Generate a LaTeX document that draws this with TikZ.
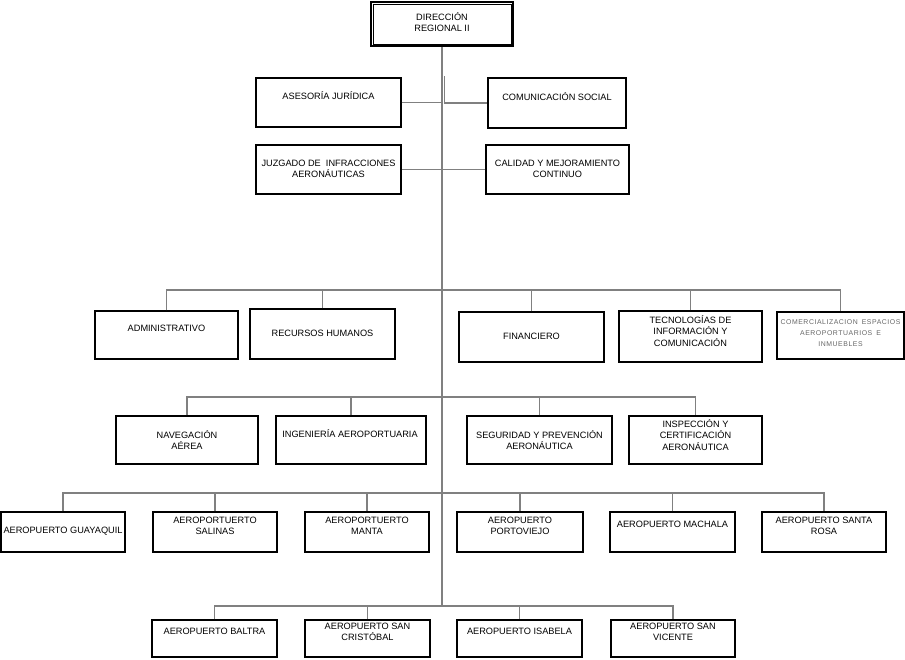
\documentclass[tikz,border=0pt]{standalone}
\usepackage{fontspec}
\setmainfont{Liberation Sans}
\newfontfamily\spacedfont[LetterSpace=8,WordSpace=1.6]{Liberation Sans}
\usetikzlibrary{fit}
\begin{document}
\begin{tikzpicture}[x=1pt,y=-1pt,
  box/.style={draw=black,line width=1.4pt,inner sep=0pt},
  txt/.style={align=center,inner sep=0pt,font=\fontsize{9.2}{11.5}\selectfont},
  smalltxt/.style={align=center,inner sep=0pt,text=black!60,font=\spacedfont\fontsize{6.9}{11}\selectfont},
  conn/.style={draw=black!50,line width=1.2pt},
  trunk/.style={draw=black!50,line width=1.7pt},
  thickbus/.style={draw=black!50,line width=2.4pt}]
\useasboundingbox (0,0) rectangle (905,659);
% ---- boxes
\node[box,line width=2.6pt,fit={(371,2) (513,46)}] (dir) {};
\node[draw=black,line width=0.8pt,fit=(dir),inner sep=-3.2pt] (dirin) {};
\node[box,fit={(256,78) (401,127)}] (ase) {};
\node[box,fit={(488,78) (626,128)}] (com) {};
\node[box,fit={(256,145) (401,194)}] (juz) {};
\node[box,fit={(486,145) (629,194)}] (cal) {};
\node[box,fit={(95,311) (238,359)}] (adm) {};
\node[box,fit={(250,309) (395,359)}] (rrhh) {};
\node[box,fit={(459,312) (604,362)}] (fin) {};
\node[box,fit={(619,311) (762,362)}] (tic) {};
\node[box,fit={(777,312) (904,359)}] (comer) {};
\node[box,fit={(116,416) (258,464)}] (nav) {};
\node[box,fit={(276,416) (426,464)}] (ing) {};
\node[box,fit={(467,416) (612,464)}] (seg) {};
\node[box,fit={(629,416) (762,464)}] (insp) {};
\node[box,fit={(1,512) (125,552)}] (gye) {};
\node[box,fit={(153,512) (277,552)}] (sal) {};
\node[box,fit={(305,512) (429,552)}] (manta) {};
\node[box,fit={(457,512) (583,552)}] (port) {};
\node[box,fit={(610,512) (735,552)}] (mach) {};
\node[box,fit={(762,512) (886,552)}] (sros) {};
\node[box,fit={(152,620) (277,657)}] (bal) {};
\node[box,fit={(305,620) (430,657)}] (sc) {};
\node[box,fit={(457,620) (582,657)}] (isa) {};
\node[box,fit={(611,620) (735,657)}] (sv) {};
% ---- texts
\node[txt] (dir-t) at (442,22) {DIRECCIÓN\\REGIONAL II};
\node[txt] (ase-t) at (328.5,96) {ASESORÍA JURÍDICA};
\node[txt] (com-t) at (557,97) {COMUNICACIÓN SOCIAL};
\node[txt] (juz-t) at (328.5,169) {JUZGADO DE\ \ INFRACCIONES\\AERONÁUTICAS};
\node[txt] (cal-t) at (557.5,169) {CALIDAD Y MEJORAMIENTO\\CONTINUO};
\node[txt] (adm-t) at (166.5,328) {ADMINISTRATIVO};
\node[txt] (rrhh-t) at (322.5,333) {RECURSOS HUMANOS};
\node[txt] (fin-t) at (531.5,336) {FINANCIERO};
\node[txt] (tic-t) at (690.5,331) {TECNOLOGÍAS DE\\INFORMACIÓN Y\\COMUNICACIÓN};
\node[smalltxt] (comer-t) at (840.5,333) {COMERCIALIZACION ESPACIOS\\AEROPORTUARIOS E\\INMUEBLES};
\node[txt] (nav-t) at (187,440) {NAVEGACIÓN\\AÉREA};
\node[txt] (ing-t) at (350,434) {INGENIERÍA AEROPORTUARIA};
\node[txt] (seg-t) at (539.5,440) {SEGURIDAD Y PREVENCIÓN\\AERONÁUTICA};
\node[txt] (insp-t) at (695.5,435) {INSPECCIÓN Y\\CERTIFICACIÓN\\AERONÁUTICA};
\node[txt] (gye-t) at (63,531) {AEROPUERTO GUAYAQUIL};
\node[txt] (sal-t) at (215,526) {AEROPORTUERTO\\SALINAS};
\node[txt] (manta-t) at (367,526) {AEROPORTUERTO\\MANTA};
\node[txt] (port-t) at (520,526) {AEROPUERTO\\PORTOVIEJO};
\node[txt] (mach-t) at (672.5,524) {AEROPUERTO MACHALA};
\node[txt] (sros-t) at (824,526) {AEROPUERTO SANTA\\ROSA};
\node[txt] (bal-t) at (214.5,631) {AEROPUERTO BALTRA};
\node[txt] (sc-t) at (367.5,632) {AEROPUERTO SAN\\CRISTÓBAL};
\node[txt] (isa-t) at (519.5,631) {AEROPUERTO ISABELA};
\node[txt] (sv-t) at (673,632) {AEROPUERTO SAN\\VICENTE};
% ---- bus coordinates
\coordinate (b2) at (442,290);
\coordinate (b3) at (442,397);
\coordinate (b4) at (442,493);
\coordinate (b5) at (442,606);
\coordinate (ck) at (444.5,76);
% ---- trunk
\draw[trunk] (dir.south) -- (dir.south |- b5);
% ---- top staff
\draw[conn] (ase.east) -- (ase.east -| dir.south);
\draw[conn] (juz.east) -- (juz.east -| dir.south);
\draw[conn] (cal.west) -- (cal.west -| dir.south);
\draw[conn] (ck) -- (ck |- com.west) -- (com.west);
% ---- row 2
\draw[conn] (adm.north) -- (adm.north |- b2) -- (comer.north |- b2) -- (comer.north);
\draw[thickbus] (rrhh.north |- b2) -- (fin.north |- b2);
\draw[conn] (rrhh.north) -- (rrhh.north |- b2);
\draw[conn] (fin.north) -- (fin.north |- b2);
\draw[conn] (tic.north) -- (tic.north |- b2);
% ---- row 3
\draw[conn] (nav.north) -- (nav.north |- b3) -- (insp.north |- b3) -- (insp.north);
\draw[conn] (ing.north) -- (ing.north |- b3);
\draw[conn] (seg.north) -- (seg.north |- b3);
% ---- row 4
\draw[conn] (gye.north) -- (gye.north |- b4) -- (sros.north |- b4) -- (sros.north);
\draw[conn] (sal.north) -- (sal.north |- b4);
\draw[conn] (manta.north) -- (manta.north |- b4);
\draw[conn] (port.north) -- (port.north |- b4);
\draw[conn] (mach.north) -- (mach.north |- b4);
% ---- row 5
\draw[conn] (bal.north) -- (bal.north |- b5) -- (sv.north |- b5) -- (sv.north);
\draw[conn] (sc.north) -- (sc.north |- b5);
\draw[conn] (isa.north) -- (isa.north |- b5);
\end{tikzpicture}
\end{document}
